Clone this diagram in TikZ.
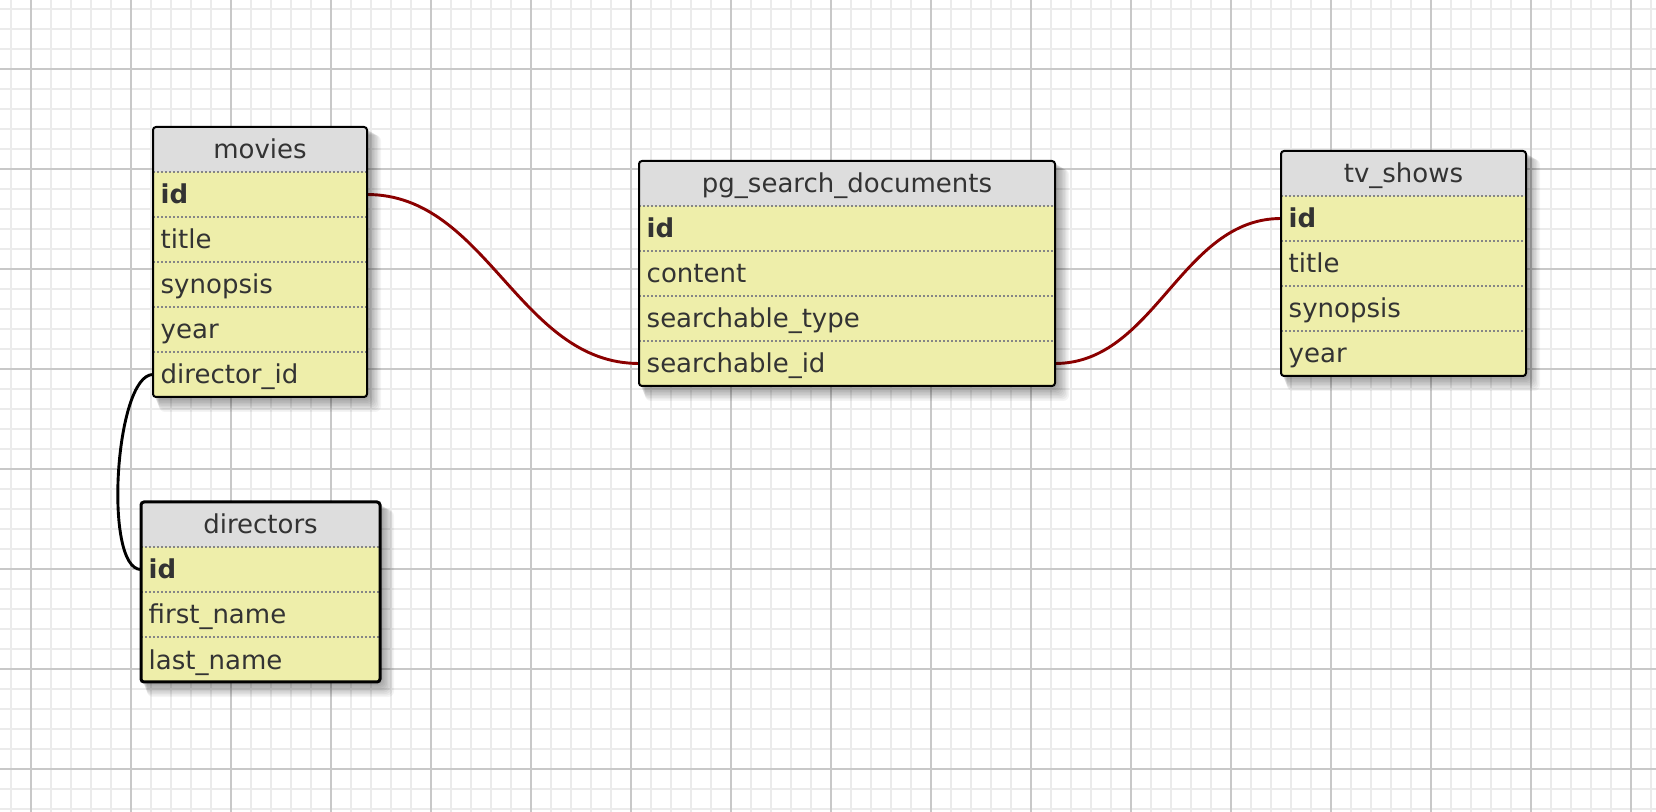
\documentclass[tikz,border=0pt]{standalone}
\usepackage{fontspec}
\setmainfont{DejaVu Sans}
\definecolor{jaune}{HTML}{EEEEAA}
\definecolor{gris}{HTML}{DDDDDD}
\definecolor{texte}{HTML}{333333}
\definecolor{pointgris}{HTML}{868686}
\definecolor{rouge}{HTML}{8B0000}
\definecolor{grillefine}{HTML}{EBEBEB}
\definecolor{grilleepaisse}{HTML}{C8C8C8}
\pgfdeclarelayer{grille}
\pgfdeclarelayer{liens}
\pgfdeclarelayer{ombres}
\pgfsetlayers{grille,liens,ombres,main}
\begin{document}
\begin{tikzpicture}[x=0.5pt,y=-0.5pt]
		\tikzstyle{entete}=[fill=gris,text=texte,anchor=north west,inner sep=0pt,outer sep=0pt,minimum height=22.5pt,text height=11pt,text depth=1.5pt,font=\fontsize{13}{15}\selectfont]
		\tikzstyle{champ}=[fill=jaune,text=texte,anchor=north west,inner xsep=3.85pt,inner ysep=0pt,outer sep=0pt,minimum height=22.5pt,text height=11pt,text depth=1.5pt,align=left,font=\fontsize{13}{15}\selectfont]
		\tikzstyle{pointille}=[draw=pointgris,line width=1pt,dash pattern=on 1pt off 1pt]
		\tikzstyle{cadre}=[draw=black,line width=1pt,rounded corners=1.5pt]
		\tikzstyle{lienrouge}=[draw=rouge,line width=1.45pt]
		\tikzstyle{liennoir}=[draw=black,line width=1.45pt]
		\tikzstyle{ombre}=[fill=black,opacity=0.045,rounded corners=3pt]
		\tikzstyle{fin}=[draw=grillefine,line width=0.75pt]
		\tikzstyle{epais}=[draw=grilleepaisse,line width=1pt]
		
		\def\LMv{99.3pt}
		\def\LDir{111.8pt}
		\def\LPg{200.3pt}
		\def\LTv{114.8pt}
		
		\useasboundingbox (0,0) rectangle (1656,812);
		
		\begin{pgfonlayer}{grille}
		\fill[white] (0,0) rectangle (1656,812);
		\foreach \x in {11,31,...,1651} \draw[fin] (\x,0) -- (\x,812);
		\foreach \y in {9,29,...,809} \draw[fin] (0,\y) -- (1656,\y);
		\foreach \x in {31,131,...,1631} \draw[epais] (\x,0) -- (\x,812);
		\foreach \y in {69,169,...,769} \draw[epais] (0,\y) -- (1656,\y);
		\end{pgfonlayer}
		
		% movies
		\node[entete,minimum width=107pt] (mv-titre) at (153,127) {movies};
		\node[champ,text width=\LMv] (mv-id) at (153,172) {\textbf{id}};
		\node[champ,text width=\LMv] (mv-title) at (153,217) {title};
		\node[champ,text width=\LMv] (mv-syn) at (153,262) {synopsis};
		\node[champ,text width=\LMv] (mv-year) at (153,307) {year};
		\node[champ,text width=\LMv] (mv-dir) at (153,352) {director\_id};
		\foreach \c in {id,title,syn,year,dir} \draw[pointille] (mv-\c.north west) -- (mv-\c.north east);
		\draw[cadre] (mv-titre.north west) rectangle (mv-dir.south east);
		
		% directors
		\node[entete,minimum width=119.5pt] (dir-titre) at (141,502) {directors};
		\node[champ,text width=\LDir] (dir-id) at (141,547) {\textbf{id}};
		\node[champ,text width=\LDir] (dir-first) at (141,592) {first\_name};
		\node[champ,text width=\LDir] (dir-last) at (141,637) {last\_name};
		\foreach \c in {id,first,last} \draw[pointille] (dir-\c.north west) -- (dir-\c.north east);
		\draw[cadre,line width=1.5pt] (dir-titre.north west) rectangle (dir-last.south east);
		
		% pg_search_documents
		\node[entete,minimum width=208pt] (pg-titre) at (639,161) {pg\_search\_documents};
		\node[champ,text width=\LPg] (pg-id) at (639,206) {\textbf{id}};
		\node[champ,text width=\LPg] (pg-content) at (639,251) {content};
		\node[champ,text width=\LPg] (pg-stype) at (639,296) {searchable\_type};
		\node[champ,text width=\LPg] (pg-sid) at (639,341) {searchable\_id};
		\foreach \c in {id,content,stype,sid} \draw[pointille] (pg-\c.north west) -- (pg-\c.north east);
		\draw[cadre] (pg-titre.north west) rectangle (pg-sid.south east);
		
		% tv_shows
		\node[entete,minimum width=122.5pt] (tv-titre) at (1281,151) {tv\_shows};
		\node[champ,text width=\LTv] (tv-id) at (1281,196) {\textbf{id}};
		\node[champ,text width=\LTv] (tv-title) at (1281,241) {title};
		\node[champ,text width=\LTv] (tv-syn) at (1281,286) {synopsis};
		\node[champ,text width=\LTv] (tv-year) at (1281,331) {year};
		\foreach \c in {id,title,syn,year} \draw[pointille] (tv-\c.north west) -- (tv-\c.north east);
		\draw[cadre] (tv-titre.north west) rectangle (tv-year.south east);
		
		% ombres
		\begin{pgfonlayer}{ombres}
		\foreach \h/\b in {mv-titre/mv-dir,dir-titre/dir-last,pg-titre/pg-sid,tv-titre/tv-year}
			\foreach \r in {1,...,10}
				\fill[ombre] ([shift={({0.6*\r},{0.8*\r})}]\h.north west) rectangle ([shift={({1.4*\r},{1.5*\r})}]\b.south east);
		\end{pgfonlayer}
		
		% liens
		\begin{pgfonlayer}{liens}
		\draw[lienrouge] (mv-id.east) .. controls +(120,0) and +(-120,0) .. (pg-sid.west);
		\draw[lienrouge] (pg-sid.east) .. controls +(100,0) and +(-100,0) .. (tv-id.west);
		\draw[liennoir] (mv-dir.west) .. controls +(-38,0) and +(-38,0) .. (dir-id.west);
		\end{pgfonlayer}
	\end{tikzpicture}
\end{document}
